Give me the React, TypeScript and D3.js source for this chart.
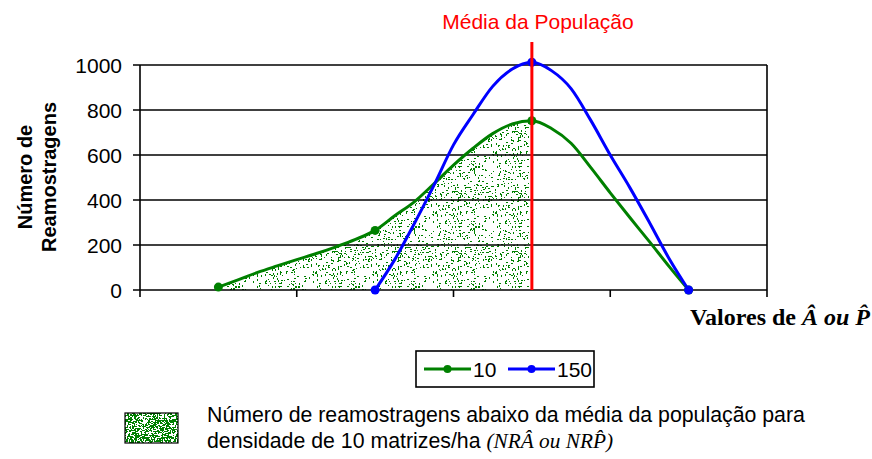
import React, { useMemo } from "react";
import * as d3 from "d3";

// ---- data ----
const positions = [0.5, 0.625, 0.75, 0.875, 1, 1.125, 1.25, 1.375, 1.5, 1.625, 1.75, 1.875, 2, 2.125, 2.25, 2.375, 2.5, 2.625, 2.75, 2.875, 3, 3.125, 3.25, 3.375, 3.5];
const series10: (number | null)[] = [13, 45, 78, 107, 135, 162, 192, 225, 265, 330, 392, 472, 555, 630, 695, 738, 752, 718, 652, 545, 432, 322, 215, 105, 0];
const series150: (number | null)[] = [null, null, null, null, null, null, null, null, 0, 135, 295, 465, 645, 780, 905, 982, 1012, 975, 895, 755, 600, 455, 300, 140, 0];
const seriesNames = ["10", "150"];
const seriesColors = ["#008000", "#0000FF"];
const yTicks = [0, 200, 400, 600, 800, 1000];
const xTicks = [0, 1, 2, 3, 4];
const meanPosition = 2.5;
const meanLabel = "Média da População";
const yTitleLines = ["Número de", "Reamostragens"];
const xTitleA = "Valores de ";
const xTitleB = "Â ou P\u0302";
const fillLegendLine1 = "Número de reamostragens abaixo da média da população para";
const fillLegendLine2a = "densidade de 10 matrizes/ha ";
const fillLegendLine2b = "(NRÂ ou NRP\u0302)";

const W = 872;
const H = 459;
const SANS = "'Liberation Sans', Arial, sans-serif";
const SERIF = "'Liberation Serif', 'Times New Roman', serif";

function makeDots(size: number, density: number, seed: number) {
  let s = seed;
  const rnd = () => {
    s = (s * 1103515245 + 12345) % 2147483648;
    return s / 2147483648;
  };
  const dots: { x: number; y: number; w: number; h: number }[] = [];
  for (let yy = 0; yy < size; yy++) {
    for (let xx = 0; xx < size; xx++) {
      if (rnd() < density) {
        const r = rnd();
        const w = r < 0.4 ? 2 : 1;
        const h = r > 0.75 ? 2 : 1;
        dots.push({ x: xx, y: yy, w, h });
      }
    }
  }
  return dots;
}

export default function App() {
  const x = d3.scaleLinear().domain([0, 4]).range([140, 767]);
  const y = d3.scaleLinear().domain([0, 1000]).range([290, 65]);

  const dotsSparse = useMemo(() => makeDots(60, 0.085, 12345), []);
  const dotsDense = useMemo(() => makeDots(48, 0.42, 777), []);

  const series = [series10, series150];

  const line = d3
    .line<[number, number | null]>()
    .defined((d) => d[1] !== null)
    .x((d) => x(d[0]))
    .y((d) => y(d[1] as number))
    .curve(d3.curveMonotoneX);

  const fillData: [number, number][] = positions
    .map((p, i) => [p, series10[i] as number] as [number, number])
    .filter((d) => d[0] <= meanPosition);
  const area = d3
    .area<[number, number]>()
    .x((d) => x(d[0]))
    .y0(y(0))
    .y1((d) => y(d[1]))
    .curve(d3.curveMonotoneX);

  const plotLeft = x(0);
  const plotRight = x(4);
  const yTop = y(1000);
  const yZero = y(0);

  return (
    <svg
      width={W}
      height={H}
      viewBox={`0 0 ${W} ${H}`}
      style={{ position: "absolute", left: 0, top: 0, background: "#fff" }}
    >
      <defs>
        <pattern id="stipple" patternUnits="userSpaceOnUse" width={60} height={60}>
          {dotsSparse.map((d, i) => (
            <rect key={i} x={d.x} y={d.y} width={d.w} height={d.h} fill="#008000" />
          ))}
        </pattern>
        <pattern id="stippleDense" patternUnits="userSpaceOnUse" width={48} height={48}>
          {dotsDense.map((d, i) => (
            <rect key={i} x={d.x} y={d.y} width={d.w} height={d.h} fill="#008000" />
          ))}
        </pattern>
        <clipPath id="meanClip">
          <rect x={plotLeft} y={0} width={x(meanPosition) - plotLeft - 3} height={H} />
        </clipPath>
      </defs>

      <rect x={0} y={0} width={W} height={H} fill="#fff" />

      {/* stipple fill under series 10 up to the population mean */}
      <path d={area(fillData) || ""} fill="url(#stipple)" clipPath="url(#meanClip)" />

      {/* gridlines */}
      {yTicks.map((t) => (
        <line key={"g" + t} x1={plotLeft - 7} x2={plotRight} y1={y(t)} y2={y(t)} stroke="#000" strokeWidth={1.6} />
      ))}
      {/* left axis & right border */}
      <line x1={plotLeft} x2={plotLeft} y1={yTop} y2={yZero} stroke="#000" strokeWidth={1.6} />
      <line x1={plotRight} x2={plotRight} y1={yTop} y2={yZero} stroke="#000" strokeWidth={1.6} />
      {/* x ticks */}
      {xTicks.map((t) => (
        <line key={"xt" + t} x1={x(t)} x2={x(t)} y1={yZero} y2={yZero + 7} stroke="#000" strokeWidth={1.6} />
      ))}
      {/* y tick labels */}
      {yTicks.map((t) => (
        <text key={"yl" + t} x={122} y={y(t) + 7.5} textAnchor="end" fontFamily={SANS} fontSize={21} fill="#000">
          {t}
        </text>
      ))}

      {/* y axis title */}
      {yTitleLines.map((s, i) => (
        <text
          key={"yt" + i}
          transform={`translate(${32 + i * 24},177) rotate(-90)`}
          textAnchor="middle"
          fontFamily={SANS}
          fontWeight="bold"
          fontSize={20}
          fill="#000"
        >
          {s}
        </text>
      ))}

      {/* series lines */}
      {series.map((vals, si) => (
        <path
          key={"s" + si}
          d={line(positions.map((p, i) => [p, vals[i]] as [number, number | null])) || ""}
          fill="none"
          stroke={seriesColors[si]}
          strokeWidth={3}
          strokeLinejoin="round"
        />
      ))}
      {/* markers at category centres */}
      {series.map((vals, si) =>
        positions.map((p, i) =>
          vals[i] !== null && Math.abs((p % 1) - 0.5) < 1e-9 ? (
            <circle key={`m${si}-${i}`} cx={x(p)} cy={y(vals[i] as number)} r={4.5} fill={seriesColors[si]} />
          ) : null
        )
      )}

      {/* population mean */}
      <line x1={x(meanPosition)} x2={x(meanPosition)} y1={42} y2={yZero} stroke="#FF0000" strokeWidth={3} />
      <text x={538} y={29} textAnchor="middle" fontFamily={SANS} fontSize={21} fill="#FF0000">
        {meanLabel}
      </text>

      {/* x axis title */}
      <text x={870} y={325} textAnchor="end" fontFamily={SERIF} fontWeight="bold" fontSize={24} fill="#000">
        <tspan>{xTitleA}</tspan>
        <tspan fontStyle="italic">{xTitleB}</tspan>
      </text>

      {/* series legend */}
      <rect x={416} y={351} width={178} height={36} fill="#fff" stroke="#000" strokeWidth={1.6} />
      {seriesNames.map((name, i) => {
        const x0 = i === 0 ? 424 : 508;
        return (
          <g key={"lg" + i}>
            <line x1={x0} x2={x0 + 47} y1={369} y2={369} stroke={seriesColors[i]} strokeWidth={3} />
            <circle cx={x0 + 23.5} cy={369} r={4} fill={seriesColors[i]} />
            <text x={x0 + 49} y={376.5} fontFamily={SANS} fontSize={21} fill="#000">
              {name}
            </text>
          </g>
        );
      })}

      {/* fill legend */}
      <rect x={125} y={413} width={53} height={30} fill="url(#stippleDense)" stroke="#000" strokeWidth={1.2} />
      <text x={207} y={422} fontFamily={SANS} fontSize={21.3} fill="#000">
        {fillLegendLine1}
      </text>
      <text x={207} y={448} fontFamily={SANS} fontSize={21.3} fill="#000">
        <tspan>{fillLegendLine2a}</tspan>
        <tspan fontFamily={SERIF} fontStyle="italic">
          {fillLegendLine2b}
        </tspan>
      </text>
    </svg>
  );
}
